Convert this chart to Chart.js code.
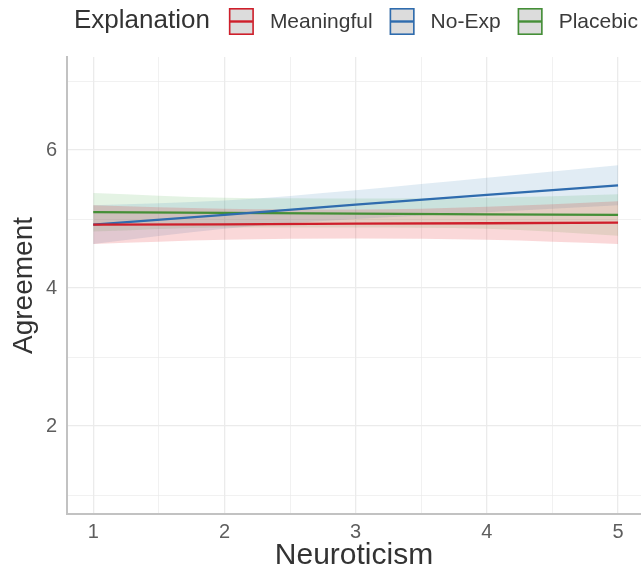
<!DOCTYPE html>
<html lang="en">
<head>
    <meta charset="UTF-8">
    <title>Agreement by Neuroticism</title>
    <script src="https://cdn.jsdelivr.net/npm/chart.js"></script>
    <style>
        body {
            margin: 0;
            padding: 0;
            background: #fff;
        }

        .chart-box {
            width: 641px;
            height: 574px;
        }
    </style>
</head>
<body>
    <div class="chart-box">
        <canvas id="fitChart"></canvas>
    </div>

    <script>
        // Data
        const neuroticism = [1, 2, 3, 4, 5];
        const groups = ['Meaningful', 'No-Exp', 'Placebic'];

        const meaningfulFit = [4.92, 4.925, 4.935, 4.94, 4.95];
        const meaningfulLow = [4.64, 4.70, 4.72, 4.70, 4.64];
        const meaningfulHigh = [5.20, 5.15, 5.14, 5.18, 5.26];

        const noExpFit = [4.92, 5.06, 5.21, 5.35, 5.49];
        const noExpLow = [4.64, 4.86, 5.00, 5.10, 5.20];
        const noExpHigh = [5.20, 5.27, 5.42, 5.60, 5.78];

        const placebicFit = [5.10, 5.09, 5.08, 5.07, 5.06];
        const placebicLow = [4.82, 4.88, 4.88, 4.86, 4.76];
        const placebicHigh = [5.38, 5.31, 5.30, 5.31, 5.36];

        const xTicks = [1, 1.5, 2, 2.5, 3, 3.5, 4, 4.5, 5];
        const yTicks = [1, 2, 3, 4, 5, 6, 7];

        const lineColors = ['#cf1f2b', '#2f6cae', '#458f37'];
        const bandColors = ['rgba(228, 26, 28, 0.17)', 'rgba(55, 126, 184, 0.15)', 'rgba(77, 175, 74, 0.15)'];

        const fits = [meaningfulFit, noExpFit, placebicFit];
        const lows = [meaningfulLow, noExpLow, placebicLow];
        const highs = [meaningfulHigh, noExpHigh, placebicHigh];

        const toPoints = arr => arr.map((v, i) => ({ x: neuroticism[i], y: v }));

        // bands first (upper fills down to the lower one), lines on top
        const datasets = [];
        groups.forEach((g, i) => {
            datasets.push({
                label: g + ' upper',
                data: toPoints(highs[i]),
                borderWidth: 0,
                pointRadius: 0,
                backgroundColor: bandColors[i],
                fill: '+1',
                cubicInterpolationMode: 'monotone',
                order: 2
            });
            datasets.push({
                label: g + ' lower',
                data: toPoints(lows[i]),
                borderWidth: 0,
                pointRadius: 0,
                fill: false,
                cubicInterpolationMode: 'monotone',
                order: 2
            });
        });
        groups.forEach((g, i) => {
            datasets.push({
                label: g,
                data: toPoints(fits[i]),
                borderColor: lineColors[i],
                borderWidth: 2.3,
                pointRadius: 0,
                fill: false,
                order: 1
            });
        });

        // legend drawn inline: title then keys, ggplot style
        const inlineLegend = {
            id: 'inlineLegend',
            afterDraw(chart) {
                const ctx = chart.ctx;
                ctx.save();
                let x = 74;
                ctx.fillStyle = '#333';
                ctx.font = '26px "Liberation Sans", Arial, sans-serif';
                ctx.textBaseline = 'middle';
                ctx.textAlign = 'left';
                ctx.fillText('Explanation', x, 21);
                x += ctx.measureText('Explanation').width + 19;

                ctx.font = '21px "Liberation Sans", Arial, sans-serif';
                groups.forEach((g, i) => {
                    const bw = 25, bh = 27, by = 8;
                    ctx.fillStyle = '#dcdcdc';
                    ctx.fillRect(x, by, bw, bh);
                    ctx.strokeStyle = lineColors[i];
                    ctx.lineWidth = 1.6;
                    ctx.strokeRect(x + 0.8, by + 0.8, bw - 1.6, bh - 1.6);
                    ctx.beginPath();
                    ctx.lineWidth = 2.4;
                    ctx.moveTo(x + 1, by + bh / 2);
                    ctx.lineTo(x + bw - 1, by + bh / 2);
                    ctx.stroke();
                    x += bw + 16;
                    ctx.fillStyle = '#3a3a3a';
                    ctx.fillText(g, x, 22);
                    x += ctx.measureText(g).width + 17;
                });
                ctx.restore();
            }
        };

        const gridWidth = c => (Number.isInteger(c.tick.value) ? 1.3 : 0.7);

        new Chart(document.getElementById('fitChart'), {
            type: 'line',
            data: { datasets: datasets },
            plugins: [inlineLegend],
            options: {
                responsive: true,
                maintainAspectRatio: false,
                animation: false,
                layout: { padding: { top: 57, right: 0, left: 0, bottom: 0 } },
                plugins: {
                    legend: { display: false },
                    tooltip: { enabled: false }
                },
                scales: {
                    x: {
                        type: 'linear',
                        min: 0.8,
                        max: 5.175,
                        afterBuildTicks: s => { s.ticks = xTicks.map(v => ({ value: v })); },
                        afterFit: s => { s.height = 60; },
                        grid: { color: '#ebebeb', lineWidth: gridWidth, drawTicks: false },
                        border: { display: true, color: '#c2c2c2', width: 2 },
                        ticks: {
                            autoSkip: false,
                            maxRotation: 0,
                            padding: 6,
                            color: '#5e5e5e',
                            font: { family: '"Liberation Sans", Arial, sans-serif', size: 20 },
                            callback: v => (Number.isInteger(v) ? String(v) : '')
                        },
                        title: {
                            display: true,
                            text: 'Neuroticism',
                            color: '#333',
                            padding: { top: 0, bottom: 3 },
                            font: { family: '"Liberation Sans", Arial, sans-serif', size: 30, lineHeight: 1 }
                        }
                    },
                    y: {
                        min: 0.725,
                        max: 7.35,
                        afterBuildTicks: s => { s.ticks = yTicks.map(v => ({ value: v })); },
                        afterFit: s => { s.width = 67; },
                        grid: { color: '#ebebeb', lineWidth: c => (c.tick.value % 2 === 0 ? 1.3 : 0.7), drawTicks: false },
                        border: { display: true, color: '#c2c2c2', width: 2 },
                        ticks: {
                            autoSkip: false,
                            padding: 10,
                            color: '#5e5e5e',
                            font: { family: '"Liberation Sans", Arial, sans-serif', size: 20 },
                            callback: v => (v % 2 === 0 ? String(v) : '')
                        },
                        title: {
                            display: true,
                            text: 'Agreement',
                            color: '#333',
                            padding: { top: 10, bottom: 0 },
                            font: { family: '"Liberation Sans", Arial, sans-serif', size: 28, lineHeight: 1 }
                        }
                    }
                }
            }
        });
    </script>
</body>
</html>
